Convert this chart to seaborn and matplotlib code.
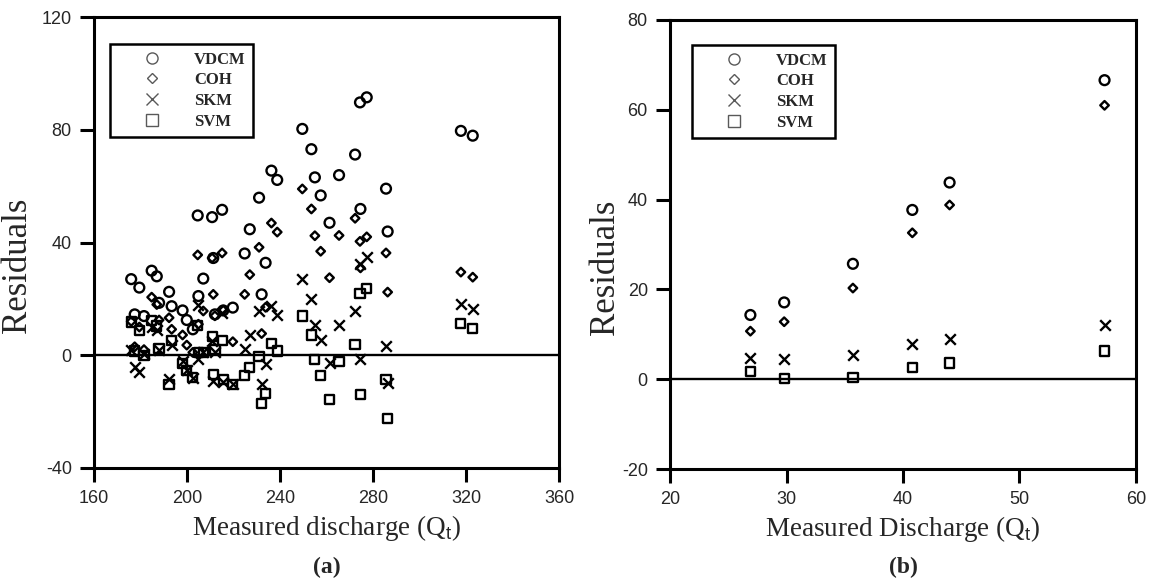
import matplotlib
matplotlib.use("Agg")
import matplotlib.pyplot as plt
from matplotlib.lines import Line2D
import pandas as pd
import seaborn as sns

models = ["VDCM", "COH", "SKM", "SVM"]

# Panel (a): residuals against measured discharge
discharge_a = [176.0, 177.5, 179.5, 181.5, 184.8, 187.0, 188.0, 192.3, 193.4, 198.1,
               199.9, 202.5, 204.6, 204.9, 207.0, 210.8, 211.3, 212.0, 215.1, 215.6,
               219.7, 224.8, 227.0, 231.0, 232.1, 233.8, 236.3, 238.8, 249.6, 253.5,
               255.0, 257.5, 261.3, 265.4, 272.3, 274.4, 274.6, 277.3, 285.6, 286.3,
               317.8, 322.9]
vdcm_a = [27.0, 14.5, 24.0, 13.9, 30.0, 28.0, 18.6, 22.5, 17.4, 15.9,
          12.5, 9.2, 49.6, 21.0, 27.2, 49.0, 34.5, 14.5, 51.6, 15.9,
          16.9, 36.1, 44.7, 55.9, 21.6, 32.8, 65.5, 62.2, 80.3, 73.1,
          63.1, 56.7, 47.0, 63.9, 71.2, 89.7, 51.9, 91.5, 59.1, 43.9,
          79.6, 77.9]
coh_a = [12.0, 3.0, 10.0, 2.0, 20.6, 18.0, 12.5, 13.3, 9.2, 7.2,
         3.6, 1.0, 35.6, 11.0, 15.7, 34.5, 21.6, 14.0, 36.3, 16.0,
         4.8, 21.6, 28.6, 38.3, 7.7, 17.0, 46.9, 43.7, 59.0, 51.9,
         42.4, 36.9, 27.5, 42.5, 48.6, 40.4, 31.0, 42.0, 36.3, 22.4,
         29.5, 27.7]
skm_a = [2.0, -4.0, -6.0, 0.5, 10.0, 9.0, 2.0, -8.5, 3.5, -2.0,
         -5.1, -7.9, 18.0, -1.4, 1.0, 5.0, -9.0, 1.0, 15.0, -9.5,
         -10.3, 2.1, 7.2, 15.7, -10.3, -3.2, 17.4, 14.3, 26.9, 19.8,
         10.6, 5.3, -2.6, 10.6, 15.7, 32.2, -1.4, 34.9, 3.3, -10.0,
         18.3, 16.3]
svm_a = [11.8, 1.5, 8.8, -0.2, 12.4, 10.4, 2.5, -10.3, 5.1, -3.0,
         -5.5, -7.9, 10.6, 1.0, 1.0, 6.6, -6.7, 2.1, 5.3, -8.5,
         -10.3, -7.1, -4.4, -0.5, -17.0, -13.6, 4.2, 1.5, 13.9, 7.2,
         -1.4, -7.3, -15.7, -2.2, 3.9, 21.8, -14.0, 23.6, -8.5, -22.4,
         11.2, 9.5]

# Panel (b)
discharge_b = [26.9, 29.8, 35.7, 40.8, 44.0, 57.3]
vdcm_b = [14.3, 17.1, 25.7, 37.7, 43.8, 66.6]
coh_b = [10.7, 12.8, 20.3, 32.6, 38.8, 61.0]
skm_b = [4.8, 4.5, 5.3, 7.9, 8.9, 12.1]
svm_b = [1.7, 0.1, 0.3, 2.6, 3.6, 6.3]

x_ticks_a = [160, 200, 240, 280, 320, 360]
y_ticks_a = [-40, 0, 40, 80, 120]
x_ticks_b = [20, 30, 40, 50, 60]
y_ticks_b = [-20, 0, 20, 40, 60, 80]


def long_table(q, series):
    rows = []
    for name, vals in zip(models, series):
        for qi, vi in zip(q, vals):
            rows.append({"Q": qi, "Residual": vi, "Model": name})
    return pd.DataFrame(rows)


df_a = long_table(discharge_a, [vdcm_a, coh_a, skm_a, svm_a])
df_b = long_table(discharge_b, [vdcm_b, coh_b, skm_b, svm_b])

sns.set_style("ticks")
plt.rcParams["font.family"] = ["Liberation Serif", "DejaVu Serif"]
plt.rcParams["axes.unicode_minus"] = False
plt.rcParams["mathtext.fontset"] = "custom"
plt.rcParams["mathtext.rm"] = "Liberation Serif"
plt.rcParams["mathtext.sf"] = "Liberation Sans"

marker_style = {
    "VDCM": dict(marker="o", s=50),
    "COH": dict(marker="D", s=19),
    "SKM": dict(marker="x", s=58),
    "SVM": dict(marker="s", s=44),
}

fig = plt.figure(figsize=(11.5, 5.81), dpi=100)
ax_a = fig.add_axes([94 / 1150, 1 - 468 / 581, 465 / 1150, 451 / 581])
ax_b = fig.add_axes([670 / 1150, 1 - 469 / 581, 466 / 1150, 449 / 581])


def draw_panel(ax, df, xlim, ylim, xticks, yticks, xlabel, ylabel_x, legend_anchor):
    ax.axhline(0, color="black", lw=1.7, zorder=1)
    for name in models:
        sub = df[df["Model"] == name]
        st = marker_style[name]
        if st["marker"] == "x":
            sns.scatterplot(data=sub, x="Q", y="Residual", ax=ax, marker="x",
                            s=st["s"], color="black", edgecolor=None,
                            linewidth=1.7, zorder=3, legend=False)
        else:
            sns.scatterplot(data=sub, x="Q", y="Residual", ax=ax, marker=st["marker"],
                            s=st["s"], color="black", edgecolor="black",
                            linewidth=1.7, zorder=3, legend=False)
            ax.collections[-1].set_facecolor("none")
    ax.set_xlim(*xlim)
    ax.set_ylim(*ylim)
    ax.set_xticks(xticks)
    ax.set_yticks(yticks)
    for sp in ax.spines.values():
        sp.set_visible(True)
        sp.set_color("black")
        sp.set_linewidth(2.2)
    ax.tick_params(direction="out", length=10, width=2.2, color="black",
                   labelsize=13, pad=6)
    for lab in ax.get_xticklabels() + ax.get_yticklabels():
        lab.set_fontfamily(["Liberation Sans", "DejaVu Sans"])
    ax.set_xlabel(xlabel, fontsize=19.5)
    ax.xaxis.set_label_coords(0.5, -0.1)
    ax.set_ylabel("Residuals", fontsize=25)
    ax.yaxis.set_label_coords(ylabel_x, 0.45)

    handles = [
        Line2D([], [], ls="", marker="o", ms=8.0, mfc="none", mec="0.35", mew=1.0),
        Line2D([], [], ls="", marker="D", ms=5.4, mfc="none", mec="0.35", mew=1.0),
        Line2D([], [], ls="", marker="x", ms=8.8, color="0.35", mew=1.0),
        Line2D([], [], ls="", marker="s", ms=8.4, mfc="none", mec="0.35", mew=1.0),
    ]
    leg = ax.legend(handles, models, loc="upper left", bbox_to_anchor=legend_anchor,
                    borderaxespad=0, frameon=True, fancybox=False, borderpad=0.45,
                    handlelength=4.2, handletextpad=0.4, labelspacing=0.28,
                    prop={"family": "Liberation Serif", "weight": "bold", "size": 12})
    frame = leg.get_frame()
    frame.set_edgecolor("black")
    frame.set_linewidth(1.8)
    frame.set_alpha(1)


draw_panel(ax_a, df_a, (160, 360), (-40, 120), x_ticks_a, y_ticks_a,
           r"Measured discharge (Q$_\mathsf{t}$)", -0.13, (0.034, 0.94))
draw_panel(ax_b, df_b, (20, 60), (-20, 80), x_ticks_b, y_ticks_b,
           r"Measured Discharge (Q$_\mathsf{t}$)", -0.103, (0.047, 0.944))

fig.text((94 + 559) / 2 / 1150, 1 - 567 / 581, "(a)", ha="center", va="center",
         fontsize=17, fontweight="bold")
fig.text((670 + 1136) / 2 / 1150, 1 - 567 / 581, "(b)", ha="center", va="center",
         fontsize=17, fontweight="bold")

fig.savefig("out.png", dpi=100)
